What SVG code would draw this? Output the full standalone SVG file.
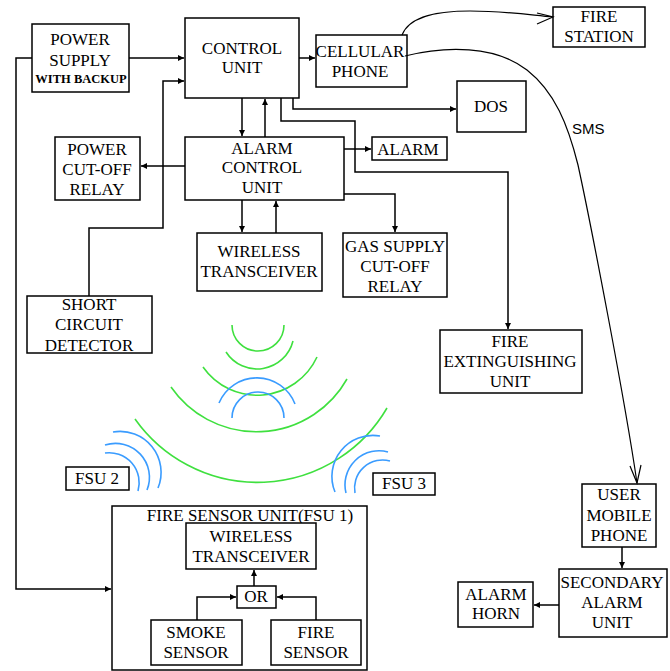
<svg xmlns="http://www.w3.org/2000/svg" width="670" height="671" viewBox="0 0 670 671">
<style>
.box{fill:#fff;stroke:#000;stroke-width:1.5}
.t{font-family:"Liberation Serif","Times New Roman",serif;font-size:17px;fill:#000;text-anchor:middle}
.s{font-family:"Liberation Sans",Arial,sans-serif;font-size:15px;fill:#000}
.c{fill:none;stroke:#000;stroke-width:1.5}
.o{fill:none;stroke:#000;stroke-width:1.2}
.g{fill:none;stroke:#3fe03f;stroke-width:1.6}
.b{fill:none;stroke:#3a9cff;stroke-width:1.6}
</style>
<defs>
<marker id="ah" markerWidth="8" markerHeight="8" refX="6" refY="3" orient="auto" markerUnits="userSpaceOnUse">
<path d="M0,0 L6,3 L0,6 Z" fill="#000"/>
</marker>
</defs>
<rect width="670" height="671" fill="#fff"/>
<g id="waves">
<path class="g" d="M232,325 A26,26 0 0 0 284,325"/>
<path class="g" d="M226,352 A37,37 0 0 0 293,341"/>
<path class="g" d="M203,367 A66,66 0 0 0 317,357"/>
<path class="g" d="M171,387 A104,104 0 0 0 347,379"/>
<path class="g" d="M135,419 A150,150 0 0 0 387,408"/>
<path class="b" d="M219,403 A41,41 0 0 1 295,404"/>
<path class="b" d="M232,418 A26,26 0 0 1 284,418"/>
<path class="b" d="M113,432 A41,41 0 0 1 158,488"/>
<path class="b" d="M105,445 A34,34 0 0 1 147,490"/>
<path class="b" d="M105,453 A30,30 0 0 1 138,491"/>
<path class="b" d="M380,436 A41,41 0 0 0 335,492"/>
<path class="b" d="M388,452 A34,34 0 0 0 346,493"/>
<path class="b" d="M390,461 A28,28 0 0 0 355,493"/>
</g>
<g id="power-supply"><rect class="box" x="32" y="24" width="97" height="68"/>
<text class="t" x="80" y="45">POWER</text><text class="t" x="80" y="66">SUPPLY</text>
<text class="t" x="81" y="83" style="font-size:12.5px;font-weight:bold">WITH BACKUP</text></g>
<g id="control-unit"><rect class="box" x="185" y="18" width="114" height="80"/>
<text class="t" x="242" y="54">CONTROL</text><text class="t" x="242" y="73">UNIT</text></g>
<g id="cellular-phone"><rect class="box" x="316" y="35" width="91" height="52"/>
<text class="t" x="360" y="57">CELLULAR</text><text class="t" x="360" y="77">PHONE</text></g>
<g id="fire-station"><rect class="box" x="553" y="7" width="92" height="40"/>
<text class="t" x="599" y="22">FIRE</text><text class="t" x="599" y="42">STATION</text></g>
<g id="dos"><rect class="box" x="457" y="81" width="69" height="51"/>
<text class="t" x="491" y="112">DOS</text></g>
<g id="power-cutoff-relay"><rect class="box" x="55" y="137" width="85" height="63"/>
<text class="t" x="97" y="155">POWER</text><text class="t" x="97" y="175">CUT-OFF</text><text class="t" x="97" y="195">RELAY</text></g>
<g id="alarm-control-unit"><rect class="box" x="185" y="137" width="159" height="63"/>
<text class="t" x="262" y="154">ALARM</text><text class="t" x="262" y="173">CONTROL</text><text class="t" x="262" y="193">UNIT</text></g>
<g id="alarm"><rect class="box" x="372" y="137" width="75" height="23"/>
<text class="t" x="408" y="155">ALARM</text></g>
<g id="wireless-transceiver"><rect class="box" x="197" y="233" width="125" height="58"/>
<text class="t" x="259" y="257">WIRELESS</text><text class="t" x="259" y="277">TRANSCEIVER</text></g>
<g id="gas-supply-relay"><rect class="box" x="343" y="233" width="104" height="64"/>
<text class="t" x="395" y="252">GAS SUPPLY</text><text class="t" x="395" y="272">CUT-OFF</text><text class="t" x="395" y="292">RELAY</text></g>
<g id="short-circuit-detector"><rect class="box" x="27" y="296" width="125" height="57"/>
<text class="t" x="89" y="310">SHORT</text><text class="t" x="89" y="330">CIRCUIT</text><text class="t" x="89" y="351">DETECTOR</text></g>
<g id="fire-extinguishing-unit"><rect class="box" x="440" y="330" width="142" height="63"/>
<text class="t" x="510" y="347">FIRE</text><text class="t" x="510" y="367">EXTINGUISHING</text><text class="t" x="510" y="387">UNIT</text></g>
<text class="s" x="572" y="134">SMS</text>
<g id="fsu2"><rect class="box" x="66" y="467" width="63" height="23"/>
<text class="t" x="97" y="484">FSU 2</text></g>
<g id="fsu3"><rect class="box" x="373" y="473" width="62" height="22"/>
<text class="t" x="404" y="489">FSU 3</text></g>
<g id="fsu1"><rect class="box" x="112" y="506" width="255" height="164"/>
<text class="t" x="250" y="521">FIRE SENSOR UNIT(FSU 1)</text></g>
<g id="fsu1-transceiver"><rect class="box" x="186" y="523" width="130" height="46"/>
<text class="t" x="251" y="542">WIRELESS</text><text class="t" x="251" y="562">TRANSCEIVER</text></g>
<g id="or-gate"><rect class="box" x="237" y="586" width="39" height="22"/>
<text class="t" x="256" y="602">OR</text></g>
<g id="smoke-sensor"><rect class="box" x="151" y="620" width="91" height="45"/>
<text class="t" x="196" y="638">SMOKE</text><text class="t" x="196" y="658">SENSOR</text></g>
<g id="fire-sensor"><rect class="box" x="271" y="620" width="90" height="45"/>
<text class="t" x="316" y="638">FIRE</text><text class="t" x="316" y="658">SENSOR</text></g>
<g id="user-mobile-phone"><rect class="box" x="582" y="484" width="74" height="63"/>
<text class="t" x="619" y="500">USER</text><text class="t" x="619" y="521">MOBILE</text><text class="t" x="619" y="541">PHONE</text></g>
<g id="secondary-alarm-unit"><rect class="box" x="559" y="569" width="108" height="68"/>
<text class="t" x="612" y="588">SECONDARY</text><text class="t" x="612" y="608">ALARM</text><text class="t" x="612" y="628">UNIT</text></g>
<g id="alarm-horn"><rect class="box" x="458" y="582" width="75" height="45"/>
<text class="t" x="496" y="600">ALARM</text><text class="t" x="496" y="619">HORN</text></g>
<g id="connectors">
<path class="c" d="M129,58 H184" marker-end="url(#ah)"/>
<path class="c" d="M32,58 H16 V589 H111" marker-end="url(#ah)"/>
<path class="c" d="M89,296 V228 H163 V81 H184" marker-end="url(#ah)"/>
<path class="c" d="M185,166 H141" marker-end="url(#ah)"/>
<path class="c" d="M242,98 V136" marker-end="url(#ah)"/>
<path class="c" d="M265,137 V99" marker-end="url(#ah)"/>
<path class="c" d="M299,58 H315" marker-end="url(#ah)"/>
<path class="c" d="M293,98 V109 H456" marker-end="url(#ah)"/>
<path class="c" d="M281,98 V121 H355 V172 H508 V329" marker-end="url(#ah)"/>
<path class="c" d="M344,149 H371" marker-end="url(#ah)"/>
<path class="c" d="M344,194 H395 V232" marker-end="url(#ah)"/>
<path class="c" d="M242,200 V232" marker-end="url(#ah)"/>
<path class="c" d="M276,233 V201" marker-end="url(#ah)"/>
<path class="o" d="M402,35 C410,15 440,11 470,11 C505,11 530,15 553,17"/>
<path class="o" d="M537,13 L553,17 L537,24"/>
<path class="o" d="M405,56 C445,46 495,45 527,70 C555,92 568,125 578,165 C590,220 625,400 637,483"/>
<path class="o" d="M630,466 L637,483 L641,465"/>
<path class="c" d="M622,547 V568" marker-end="url(#ah)"/>
<path class="c" d="M559,605 H534" marker-end="url(#ah)"/>
<path class="c" d="M254,586 V570" marker-end="url(#ah)"/>
<path class="c" d="M197,620 V597 H236" marker-end="url(#ah)"/>
<path class="c" d="M316,620 V597 H277" marker-end="url(#ah)"/>
</g>
</svg>
